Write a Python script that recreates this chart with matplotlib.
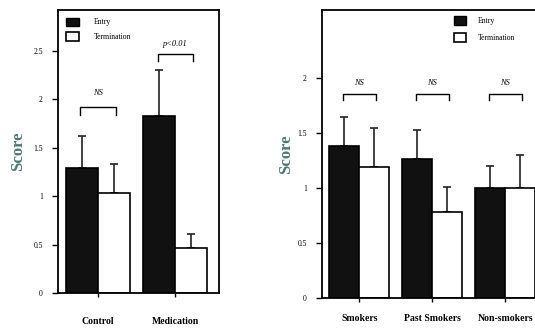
import numpy as np
import matplotlib.pyplot as plt
from matplotlib.patches import Patch

plt.rcParams['font.family'] = ['Liberation Serif', 'DejaVu Serif']

# Panel 1: treatment groups
grupos1 = ['Control', 'Medication']
entrada1 = [1.29, 1.83]
entrada1_err = [0.33, 0.47]
final1 = [1.03, 0.46]
final1_err = [0.30, 0.15]
sig1 = ['NS', 'p<0.01']

# Panel 2: smoking status
grupos2 = ['Smokers', 'Past Smokers', 'Non-smokers']
entrada2 = [1.38, 1.26, 1.00]
entrada2_err = [0.27, 0.27, 0.20]
final2 = [1.19, 0.78, 1.00]
final2_err = [0.36, 0.23, 0.30]
sig2 = ['NS', 'NS', 'NS']

score_color = '#4d7772'

fig = plt.figure(figsize=(5.35, 3.28), dpi=100)
ax1 = fig.add_axes([0.1084, 0.1067, 0.301, 0.8628])
ax2 = fig.add_axes([0.6019, 0.0915, 0.445, 0.878])


def panel(ax, grupos, ent, ent_err, fin, fin_err, sig, w, ylim, xlim,
          yticks, brk_y, brk_h, txt_y, xpad, ypad, leg_kw):
    x = np.arange(len(grupos))
    ax.bar(x - w / 2, ent, w, color='#111111', edgecolor='black', lw=1.2,
           label='Entry', zorder=2)
    ax.bar(x + w / 2, fin, w, color='white', edgecolor='black', lw=1.2,
           label='Termination', zorder=2)
    ax.errorbar(x - w / 2, ent, yerr=[np.zeros(len(x)), ent_err], fmt='none',
                ecolor='#222222', elinewidth=1.2, capsize=3, capthick=1.2, zorder=1)
    ax.errorbar(x + w / 2, fin, yerr=[np.zeros(len(x)), fin_err], fmt='none',
                ecolor='#222222', elinewidth=1.2, capsize=3, capthick=1.2, zorder=1)
    for i, s in enumerate(sig):
        x0, x1 = i - w * 0.55, i + w * 0.55
        y = brk_y[i]
        ax.plot([x0, x0, x1, x1], [y - brk_h, y, y, y - brk_h], color='black',
                lw=1.0, clip_on=False)
        ax.text(i, txt_y[i], s, ha='center', va='center', style='italic',
                fontsize=6)
    ax.set_xlim(*xlim)
    ax.set_ylim(*ylim)
    ax.set_xticks(x)
    ax.set_xticklabels(grupos, fontsize=7, fontweight='bold')
    ax.set_yticks(yticks)
    ax.set_yticklabels([('%g' % t) for t in yticks], fontsize=5.5)
    ax.tick_params(axis='y', direction='out', length=4, width=1, pad=7)
    ax.tick_params(axis='x', direction='out', length=3, width=1, pad=xpad)
    for sp in ax.spines.values():
        sp.set_linewidth(1.3)
    ax.set_ylabel('Score', fontsize=12, fontweight='bold', color=score_color,
                  labelpad=ypad)
    handles = [Patch(facecolor='#111111', edgecolor='black', label='Entry'),
               Patch(facecolor='white', edgecolor='black', lw=1.2, label='Termination')]
    ax.legend(handles=handles, frameon=False, fontsize=5.5, **leg_kw)


panel(ax1, grupos1, entrada1, entrada1_err, final1, final1_err, sig1,
      w=0.415, ylim=(0, 2.92), xlim=(-0.52, 1.57),
      yticks=[0, 0.5, 1, 1.5, 2, 2.5],
      brk_y=[1.92, 2.47], brk_h=0.08, txt_y=[2.06, 2.57],
      xpad=14.5, ypad=5,
      leg_kw=dict(loc='upper left', bbox_to_anchor=(0.0, 1.0),
                  handlelength=1.8, handleheight=1.3, handletextpad=1.9,
                  labelspacing=0.8, borderaxespad=0.6))

panel(ax2, grupos2, entrada2, entrada2_err, final2, final2_err, sig2,
      w=0.41, ylim=(0, 2.62), xlim=(-0.51, 2.75),
      yticks=[0, 0.5, 1, 1.5, 2],
      brk_y=[1.86, 1.86, 1.86], brk_h=0.06, txt_y=[1.96, 1.96, 1.96],
      xpad=8.5, ypad=2,
      leg_kw=dict(loc='upper left', bbox_to_anchor=(0.53, 1.0),
                  handlelength=1.5, handleheight=1.4, handletextpad=1.6,
                  labelspacing=1.1, borderaxespad=0.4))

fig.savefig('out.png', dpi=100)
